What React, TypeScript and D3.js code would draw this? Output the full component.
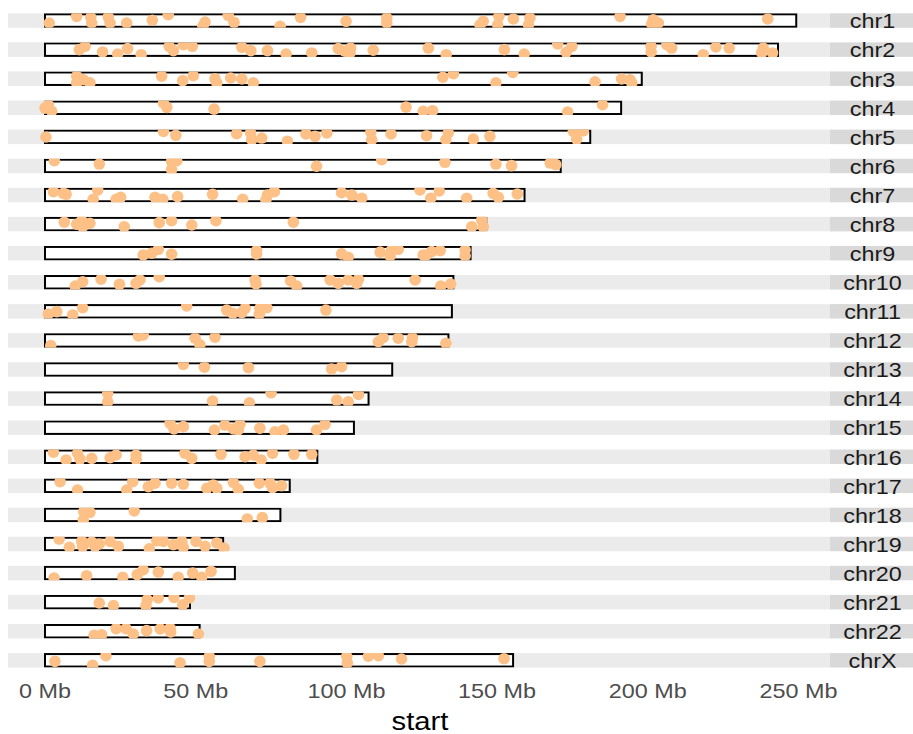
import React from "react";
import * as d3 from "d3";

const chromosomes = ["chr1","chr2","chr3","chr4","chr5","chr6","chr7","chr8","chr9","chr10","chr11","chr12","chr13","chr14","chr15","chr16","chr17","chr18","chr19","chr20","chr21","chr22","chrX"];
// chromosome lengths in Mb
const chromLengths = [249.25,243.2,198.0,191.15,180.9,171.1,159.1,146.4,141.2,135.5,135.0,133.85,115.2,107.35,102.5,90.35,81.2,78.1,59.1,63.0,48.1,51.3,155.3];
const xTicks = [0, 50, 100, 150, 200, 250];
const xTickLabels = ["0 Mb", "50 Mb", "100 Mb", "150 Mb", "200 Mb", "250 Mb"];
const xTitle = "start";

// [start (Mb), vertical jitter (0 = top of track, 1 = bottom)]
const chr1Pts = [[1.4,0.67],[10.5,0.21],[15.2,0.28],[15.5,0.67],[21.0,0.26],[21.6,0.67],[27.1,0.67],[35.6,0.48],[40.9,0.10],[53.1,0.60],[52.4,0.90],[60.8,0.14],[62.7,0.62],[78.0,0.90],[84.8,0.28],[99.9,0.55],[113.4,0.32],[113.4,0.67],[145.4,0.55],[144.3,0.79],[150.6,0.21],[150.2,0.79],[155.4,0.39],[160.9,0.32],[160.4,0.79],[190.8,0.21],[201.8,0.44],[201.3,0.74],[203.5,0.67],[239.8,0.39]];
const chr2Pts = [[11.4,0.50],[13.3,0.27],[19.1,0.66],[24.1,0.80],[27.4,0.43],[31.9,0.85],[41.2,0.27],[42.6,0.57],[45.9,0.16],[48.9,0.27],[65.3,0.34],[68.3,0.57],[73.8,0.57],[80.0,0.80],[88.5,0.73],[97.3,0.43],[99.5,0.61],[101.4,0.39],[101.2,0.73],[108.9,0.54],[127.2,0.39],[133.1,0.85],[152.4,0.50],[159.0,0.80],[170.1,0.11],[174.8,0.27],[172.9,0.68],[201.1,0.27],[201.1,0.66],[206.3,0.16],[207.9,0.39],[218.4,0.85],[222.6,0.32],[227.0,0.39],[238.3,0.39],[237.8,0.73],[241.4,0.73]];
const chr3Pts = [[10.5,0.33],[12.7,0.57],[10.5,0.79],[14.9,0.79],[38.7,0.33],[45.7,0.63],[49.2,0.29],[56.4,0.50],[57.0,0.79],[61.6,0.45],[65.3,0.52],[69.1,0.79],[132.0,0.40],[135.5,0.15],[149.6,0.79],[155.2,0.06],[182.5,0.72],[191.3,0.52],[194.1,0.57],[194.7,0.79]];
const chr4Pts = [[1.1,0.29],[2.2,0.74],[0.0,0.52],[39.3,0.17],[40.4,0.47],[56.1,0.59],[119.8,0.45],[125.5,0.74],[128.6,0.70],[173.4,0.79],[185.0,0.29]];
const chr5Pts = [[0.3,0.51],[39.3,0.12],[43.4,0.39],[63.6,0.28],[68.2,0.23],[68.6,0.70],[71.9,0.58],[80.4,0.81],[86.6,0.30],[89.6,0.46],[93.5,0.23],[108.1,0.17],[108.4,0.70],[114.8,0.30],[126.6,0.42],[133.8,0.23],[133.0,0.70],[142.1,0.65],[147.6,0.46],[175.3,0.12],[178.6,0.08],[176.4,0.65]];
const chr6Pts = [[3.1,0.14],[18.0,0.37],[42.0,0.18],[43.7,0.14],[42.0,0.76],[90.1,0.52],[111.7,0.07],[132.7,0.25],[149.6,0.37],[154.8,0.48],[167.6,0.30],[169.5,0.41]];
const chr7Pts = [[2.8,0.27],[6.1,0.38],[7.0,0.45],[17.5,0.15],[16.0,0.79],[23.6,0.79],[25.1,0.66],[36.5,0.66],[39.1,0.79],[44.0,0.61],[55.6,0.45],[65.6,0.79],[73.8,0.50],[76.1,0.27],[73.3,0.84],[98.4,0.34],[101.8,0.50],[105.1,0.72],[124.4,0.15],[128.0,0.72],[130.8,0.22],[139.9,0.72],[148.7,0.38],[150.4,0.66],[156.7,0.43]];
const chr8Pts = [[6.4,0.37],[10.5,0.51],[12.2,0.26],[14.9,0.44],[12.5,0.68],[26.3,0.68],[37.9,0.40],[42.0,0.26],[48.7,0.56],[56.7,0.26],[82.4,0.37],[144.9,0.21],[141.6,0.68],[145.4,0.68]];
const chr9Pts = [[32.6,0.62],[35.4,0.50],[37.6,0.23],[42.0,0.57],[70.2,0.32],[70.2,0.55],[98.4,0.55],[100.6,0.78],[111.2,0.43],[115.0,0.28],[117.2,0.23],[114.5,0.69],[125.5,0.62],[126.6,0.62],[128.3,0.39],[131.1,0.32],[139.4,0.28],[139.4,0.69]];
const chr10Pts = [[10.0,0.76],[12.5,0.46],[18.6,0.28],[24.7,0.64],[30.2,0.57],[31.5,0.34],[37.9,0.12],[69.7,0.34],[70.0,0.62],[81.5,0.41],[83.5,0.76],[94.6,0.34],[97.3,0.57],[100.6,0.34],[104.0,0.30],[103.4,0.57],[122.8,0.34],[131.3,0.76],[134.6,0.62]];
const chr11Pts = [[1.1,0.68],[3.9,0.52],[9.2,0.75],[12.5,0.25],[47.0,0.13],[60.3,0.41],[62.3,0.63],[65.3,0.59],[66.4,0.29],[71.3,0.29],[73.6,0.25],[71.1,0.70],[93.2,0.41]];
const chr12Pts = [[1.9,0.86],[31.0,0.19],[32.6,0.12],[49.8,0.35],[51.4,0.81],[56.4,0.28],[110.6,0.59],[112.2,0.31],[117.2,0.35],[121.9,0.31],[121.7,0.59],[133.0,0.70]];
const chr13Pts = [[45.9,0.14],[52.9,0.34],[67.5,0.37],[95.1,0.46],[98.4,0.30]];
const chr14Pts = [[20.8,0.14],[20.8,0.72],[55.6,0.67],[67.8,0.79],[75.0,0.10],[96.8,0.60],[100.6,0.72],[104.0,0.21]];
const chr15Pts = [[41.5,0.20],[42.8,0.59],[45.9,0.43],[56.2,0.66],[59.7,0.32],[62.5,0.59],[64.7,0.27],[64.1,0.66],[71.3,0.54],[76.3,0.78],[79.1,0.66],[90.1,0.66],[92.9,0.27]];
const chr16Pts = [[2.8,0.19],[7.0,0.72],[10.8,0.26],[11.6,0.66],[15.5,0.61],[21.6,0.57],[23.6,0.38],[30.2,0.38],[30.2,0.68],[46.4,0.26],[48.7,0.61],[58.4,0.33],[66.4,0.50],[69.1,0.38],[71.7,0.72],[75.5,0.26],[82.6,0.33],[88.5,0.33]];
const chr17Pts = [[5.0,0.21],[10.8,0.79],[27.1,0.79],[29.1,0.21],[34.3,0.56],[36.5,0.32],[42.0,0.32],[45.9,0.39],[53.7,0.67],[55.8,0.44],[57.0,0.67],[62.5,0.26],[64.1,0.74],[71.1,0.32],[74.7,0.32],[75.5,0.63],[78.5,0.49]];
const chr18Pts = [[12.9,0.28],[14.9,0.32],[12.7,0.85],[29.6,0.23],[67.1,0.78],[72.1,0.69]];
const chr19Pts = [[4.7,0.16],[8.1,0.73],[12.2,0.32],[12.5,0.66],[15.5,0.37],[16.6,0.66],[18.0,0.50],[21.6,0.32],[24.3,0.66],[34.6,0.83],[37.1,0.28],[39.3,0.32],[42.6,0.55],[45.4,0.32],[45.9,0.73],[50.1,0.32],[53.1,0.66],[57.0,0.43],[59.4,0.78]];
const chr20Pts = [[3.0,0.84],[13.8,0.68],[25.8,0.79],[30.6,0.61],[32.6,0.27],[37.6,0.43],[44.2,0.79],[49.0,0.50],[52.0,0.79],[55.1,0.38]];
const chr21Pts = [[18.0,0.56],[22.7,0.74],[33.9,0.33],[33.5,0.74],[37.6,0.21],[42.8,0.17],[45.7,0.68],[47.9,0.21]];
const chr22Pts = [[16.3,0.78],[18.8,0.74],[23.6,0.32],[26.9,0.32],[29.3,0.69],[33.7,0.46],[38.2,0.34],[41.7,0.55],[41.5,0.28],[50.9,0.69]];
const chrXPts = [[3.3,0.57],[15.8,0.84],[20.2,0.18],[44.8,0.68],[54.5,0.22],[54.5,0.57],[71.3,0.57],[100.1,0.22],[100.3,0.68],[107.3,0.22],[110.6,0.18],[118.3,0.41],[152.3,0.39]];

const pointSets = [chr1Pts,chr2Pts,chr3Pts,chr4Pts,chr5Pts,chr6Pts,chr7Pts,chr8Pts,chr9Pts,chr10Pts,chr11Pts,chr12Pts,chr13Pts,chr14Pts,chr15Pts,chr16Pts,chr17Pts,chr18Pts,chr19Pts,chr20Pts,chr21Pts,chr22Pts,chrXPts];

const W = 913, H = 734;
const PANEL_L = 8, PANEL_R = 830, STRIP_R = 913;
const TEXT_SX = 1.17;

export default function App() {
  const x = d3.scaleLinear().domain([0, 250]).range([45, 798.5]);
  const y = d3.scaleBand<string>().domain(chromosomes).range([13.3, 667.56]).paddingInner(0.5014).paddingOuter(0);
  const bw = y.bandwidth();
  const jy = d3.scaleLinear().domain([0, 1]).range([0, bw]);

  return (
    <svg width={W} height={H} style={{ position: "absolute", left: 0, top: 0, background: "#fff" }}
      fontFamily="'Liberation Sans', Arial, Helvetica, sans-serif">
      <defs>
        <clipPath id="panels">
          {chromosomes.map((c) => (
            <rect key={c} x={PANEL_L} y={y(c)} width={PANEL_R - PANEL_L} height={bw} />
          ))}
        </clipPath>
      </defs>
      {chromosomes.map((c) => {
        const top = y(c) as number;
        return (
          <g key={c}>
            <rect x={PANEL_L} y={top} width={PANEL_R - PANEL_L} height={bw} fill="#EBEBEB" />
            <rect x={PANEL_R} y={top} width={STRIP_R - PANEL_R} height={bw} fill="#D9D9D9" />
          </g>
        );
      })}
      <g clipPath="url(#panels)">
        {chromosomes.map((c, i) => {
          const top = y(c) as number;
          return (
            <rect key={c} x={x(0)} y={top + 1} width={x(chromLengths[i]) - x(0)} height={bw - 2}
              fill="#fff" stroke="#000" strokeWidth={2} />
          );
        })}
        {chromosomes.map((c, i) => {
          const top = y(c) as number;
          return (
            <g key={c}>
              {pointSets[i].map((p, j) => (
                <circle key={j} cx={x(p[0])} cy={top + jy(p[1])} r={5.8} fill="#FDC086" />
              ))}
            </g>
          );
        })}
      </g>
      {chromosomes.map((c) => {
        const cy = (y(c) as number) + bw / 2;
        return (
          <text key={c} transform={`translate(${(PANEL_R + STRIP_R) / 2 + 1},${cy + 7.8}) scale(${TEXT_SX},1)`}
            textAnchor="middle" fontSize={20} fill="#1A1A1A">{c}</text>
        );
      })}
      {xTicks.map((t, i) => (
        <text key={t} transform={`translate(${x(t)},${697.7}) scale(${TEXT_SX},1)`}
          textAnchor="middle" fontSize={20} fill="#4D4D4D">{xTickLabels[i]}</text>
      ))}
      <text transform={`translate(${(PANEL_L + PANEL_R) / 2 + 1},${729.5}) scale(${TEXT_SX},1)`}
        textAnchor="middle" fontSize={25} fill="#000">{xTitle}</text>
    </svg>
  );
}
